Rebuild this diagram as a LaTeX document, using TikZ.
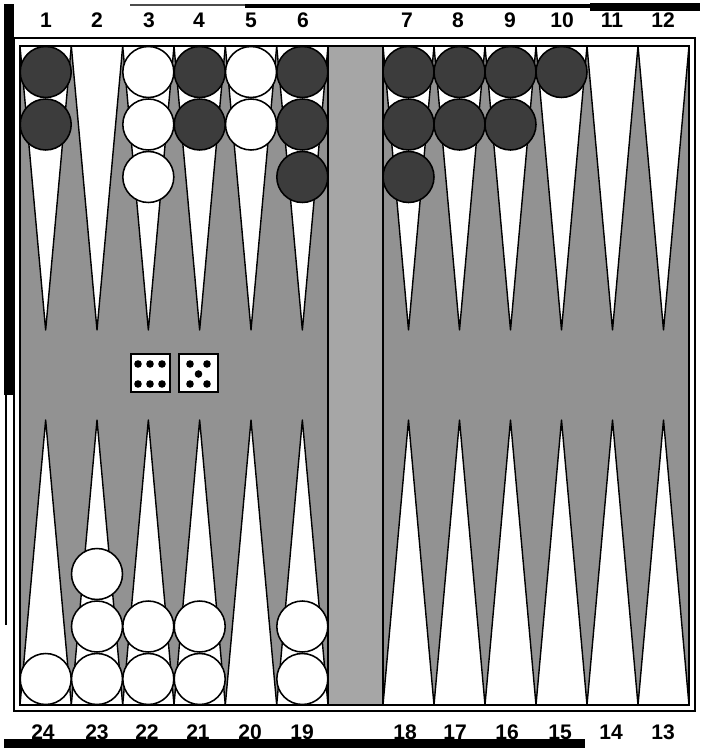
\documentclass[tikz,border=0pt]{standalone}
\usepackage{fontspec}
\setmainfont{Liberation Sans}
\usepackage{tikz}
\usetikzlibrary{positioning,calc}
\definecolor{boardgray}{RGB}{146,146,146}
\definecolor{bargray}{RGB}{166,166,166}
\definecolor{darkman}{RGB}{60,60,60}

\begin{document}
\begin{tikzpicture}[x=0.05cm, y=-0.05cm,
    pointno/.style={font=\fontsize{30}{32}\selectfont\bfseries, inner sep=0pt, anchor=base},
    blackman/.style={fill=darkman, draw=black, line width=2.2pt},
    whiteman/.style={fill=white, draw=black, line width=2.2pt},
    diebox/.style={fill=white, draw=black, line width=3pt}]
  \useasboundingbox (0,0) rectangle (700,748);
  %% scan edges
  \fill[black] (4,4) rectangle (14,395);
  \fill[black] (5,395) rectangle (7,625);
  \fill[black!70] (130,4) rectangle (245,6);
  \fill[black] (245,4) rectangle (590,8);
  \fill[black] (590,3) rectangle (700,11);
  \fill[black] (4,739) rectangle (585,748);
  %% field
  \fill[boardgray] (20,46) rectangle (689,705);
  \foreach \l/\r in {20/71.3, 71.3/122.7, 122.7/174, 174/225.3, 225.3/276.7, 276.7/328,
                     383/434, 434/485, 485/536, 536/587, 587/638, 638/689} {
    \filldraw[fill=white, draw=black, line width=2pt, line join=round]
      (\l,46) -- (\r,46) -- ({(\l+\r)/2},330) -- cycle;
    \filldraw[fill=white, draw=black, line width=2pt, line join=round]
      (\l,705) -- (\r,705) -- ({(\l+\r)/2},420) -- cycle;
  }
  %% bar
  \fill[bargray] (328,46) rectangle (383,705);
  \draw[line width=2.8pt] (328,46) -- (328,705);
  \draw[line width=2.8pt] (383,46) -- (383,705);
  %% frame
  \draw[line width=1.8pt] (20,46) rectangle (689,705);
  \draw[line width=2pt] (14,38) rectangle (695,711);
  %% men
  \foreach \x/\n in {45.7/2, 199.7/2, 302.3/3, 408.5/3, 459.5/2, 510.5/2, 561.5/1}
    \foreach \k in {1,...,\n}
      \draw[blackman] (\x,{72+(\k-1)*52.5}) circle [radius=25.5];
  \foreach \x/\n in {148.3/3, 251/2}
    \foreach \k in {1,...,\n}
      \draw[whiteman] (\x,{72+(\k-1)*52.5}) circle [radius=25.5];
  \foreach \x/\n in {45.7/1, 97/3, 148.3/2, 199.7/2, 302.3/2}
    \foreach \k in {1,...,\n}
      \draw[whiteman] (\x,{679-(\k-1)*52.5}) circle [radius=25.5];
  %% dice
  \draw[diebox] (131,354) rectangle (170,392);
  \foreach \p in {(138,364),(150,364),(162,364),(138,384),(150,384),(162,384)}
    \fill \p circle [radius=3.8];
  \draw[diebox] (179,354) rectangle (218,392);
  \foreach \p in {(190,364),(207,364),(198.5,374),(190,384),(207,384)}
    \fill \p circle [radius=3.8];
  %% point numbers
  \foreach \x/\l in {46/1, 97/2, 149/3, 199/4, 251/5, 303/6,
                     407/7, 458/8, 510/9, 562/10, 612/11, 663/12}
    \node[pointno] (top\l) at (\x,28) {\l};
  \foreach \x/\l in {43/24, 97/23, 147/22, 198/21, 250/20, 302/19,
                     405/18, 455/17, 507/16, 560/15, 611/14, 663/13}
    \node[pointno] (bot\l) at (\x,739) {\l};
\end{tikzpicture}
\end{document}
